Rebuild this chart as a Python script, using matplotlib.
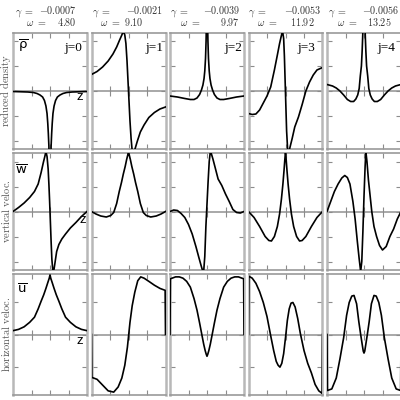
import matplotlib.pyplot as plt

# eigenvalues per mode j
gamma = [-0.0007, -0.0021, -0.0039, -0.0053, -0.0056]
omega = [4.80, 9.10, 9.97, 11.92, 13.25]
modes = ['j=0', 'j=1', 'j=2', 'j=3', 'j=4']
row_names = ['reduced density', 'vertical veloc.', 'horizontal veloc.']
row_symbols = [r'$\overline{\mathrm{ρ}}$', r'$\overline{\mathrm{w}}$', r'$\overline{\mathrm{u}}$']

# ---- reduced density ----
rho0_z = [-1, -0.8, -0.6, -0.45, -0.35, -0.27, -0.2, -0.15, -0.11, -0.08, -0.06, -0.045, -0.03, -0.02, 0,
          0.02, 0.03, 0.045, 0.06, 0.08, 0.11, 0.15, 0.2, 0.27, 0.35, 0.45, 0.6, 0.8, 1]
rho0 = [-0.01, -0.015, -0.02, -0.03, -0.05, -0.08, -0.12, -0.19, -0.3, -0.45, -0.65, -0.85, -1.1, -1.4, -2.5,
        -1.4, -1.1, -0.85, -0.65, -0.45, -0.3, -0.19, -0.12, -0.08, -0.05, -0.03, -0.02, -0.015, -0.01]

rho1_z = [-1, -0.85, -0.7, -0.55, -0.42, -0.32, -0.24, -0.18, -0.14, -0.1, -0.07, -0.04, -0.02, 0,
          0.02, 0.04, 0.07, 0.1, 0.14, 0.18, 0.24, 0.32, 0.42, 0.55, 0.7, 0.85, 1]
rho1 = [0.33, 0.39, 0.48, 0.6, 0.74, 0.88, 1.02, 1.12, 1.2, 1.12, 0.95, 0.6, 0.3, 0,
        -0.3, -0.6, -0.95, -1.2, -1.22, -1.15, -1.0, -0.82, -0.68, -0.53, -0.43, -0.36, -0.32]

rho2_z = [-1, -0.8, -0.6, -0.45, -0.35, -0.27, -0.2, -0.15, -0.11, -0.08, -0.06, -0.04, -0.025, -0.012, 0,
          0.012, 0.025, 0.04, 0.06, 0.08, 0.11, 0.15, 0.2, 0.27, 0.35, 0.45, 0.6, 0.8, 1]
rho2 = [-0.1, -0.12, -0.15, -0.17, -0.17, -0.14, -0.07, 0.02, 0.12, 0.25, 0.4, 0.65, 1.0, 1.5, 2.5,
        1.5, 1.0, 0.65, 0.4, 0.25, 0.12, 0.02, -0.07, -0.14, -0.17, -0.17, -0.15, -0.12, -0.1]

rho3_z = [-1, -0.9, -0.8, -0.7, -0.6, -0.5, -0.4, -0.3, -0.22, -0.16, -0.12, -0.08, -0.05, -0.03, -0.01,
          0.01, 0.03, 0.06, 0.09, 0.13, 0.18, 0.25, 0.35, 0.45, 0.55, 0.65, 0.75, 0.85, 1]
rho3 = [-0.45, -0.47, -0.46, -0.38, -0.24, -0.1, 0.08, 0.42, 0.72, 0.95, 1.08, 1.2, 1.05, 0.7, 0.2,
        -0.3, -0.8, -1.2, -1.22, -1.1, -0.95, -0.72, -0.52, -0.27, 0.0, 0.18, 0.32, 0.42, 0.47]

rho4_z = [-1, -0.85, -0.75, -0.65, -0.55, -0.45, -0.36, -0.28, -0.22, -0.17, -0.13, -0.1, -0.07, -0.05, -0.03, -0.015, 0,
          0.015, 0.03, 0.05, 0.07, 0.1, 0.13, 0.17, 0.22, 0.28, 0.36, 0.45, 0.55, 0.65, 0.75, 0.85, 1]
rho4 = [0.13, 0.1, 0.06, 0.0, -0.08, -0.17, -0.21, -0.21, -0.16, -0.08, 0.05, 0.3, 0.5, 0.8, 1.2, 1.8, 2.5,
        1.8, 1.2, 0.8, 0.5, 0.3, 0.05, -0.08, -0.16, -0.21, -0.21, -0.17, -0.08, 0.0, 0.06, 0.1, 0.13]

# ---- vertical velocity ----
w0_z = [-1, -0.85, -0.7, -0.55, -0.42, -0.32, -0.24, -0.18, -0.14, -0.11, -0.08, -0.05, -0.03, -0.01, 0,
        0.01, 0.03, 0.05, 0.08, 0.11, 0.14, 0.18, 0.24, 0.32, 0.42, 0.55, 0.7, 0.85, 1]
w0 = [0, 0.08, 0.17, 0.28, 0.4, 0.55, 0.78, 0.98, 1.1, 1.2, 1.1, 0.85, 0.55, 0.2, 0,
      -0.2, -0.6, -0.95, -1.22, -1.15, -1.0, -0.8, -0.66, -0.55, -0.45, -0.33, -0.22, -0.1, 0]

w1_z = [-1, -0.88, -0.75, -0.6, -0.48, -0.4, -0.32, -0.25, -0.19, -0.14, -0.09, -0.05, -0.02, 0,
        0.02, 0.05, 0.09, 0.14, 0.19, 0.25, 0.32, 0.4, 0.48, 0.6, 0.75, 0.88, 1]
w1 = [0, -0.05, -0.09, -0.11, -0.08, -0.02, 0.16, 0.4, 0.58, 0.75, 0.9, 1.04, 1.13, 1.2,
      1.13, 1.04, 0.9, 0.75, 0.58, 0.4, 0.16, -0.02, -0.08, -0.11, -0.09, -0.05, 0]

w2_z = [-1, -0.9, -0.8, -0.7, -0.6, -0.5, -0.4, -0.3, -0.22, -0.16, -0.12, -0.09, -0.06, -0.03, 0,
        0.03, 0.06, 0.09, 0.12, 0.16, 0.22, 0.3, 0.4, 0.5, 0.6, 0.7, 0.8, 0.9, 1]
w2 = [0, 0.03, 0.02, -0.04, -0.12, -0.26, -0.45, -0.7, -0.92, -1.08, -1.18, -1.2, -0.9, -0.3, 0.15,
      0.6, 1.0, 1.2, 1.15, 1.05, 0.88, 0.65, 0.52, 0.35, 0.2, 0.04, -0.02, -0.03, 0]

w3_z = [-1, -0.85, -0.7, -0.55, -0.45, -0.38, -0.3, -0.22, -0.16, -0.11, -0.07, -0.04, -0.02, 0,
        0.02, 0.04, 0.07, 0.11, 0.16, 0.22, 0.3, 0.38, 0.45, 0.55, 0.7, 0.85, 1]
w3 = [0, -0.12, -0.3, -0.5, -0.58, -0.59, -0.5, -0.3, -0.05, 0.25, 0.55, 0.82, 1.02, 1.2,
      1.02, 0.82, 0.55, 0.25, -0.05, -0.3, -0.5, -0.59, -0.58, -0.5, -0.3, -0.12, 0]

w4_z = [-1, -0.9, -0.8, -0.7, -0.6, -0.52, -0.45, -0.38, -0.3, -0.24, -0.18, -0.13, -0.09, -0.06, -0.03, 0,
        0.03, 0.05, 0.08, 0.12, 0.16, 0.21, 0.27, 0.34, 0.42, 0.5, 0.6, 0.7, 0.8, 0.9, 1]
w4 = [0, 0.2, 0.4, 0.55, 0.67, 0.72, 0.68, 0.55, 0.2, -0.15, -0.6, -0.95, -1.2, -1.0, -0.4, 0.3,
      0.9, 1.2, 1.0, 0.63, 0.35, 0.0, -0.3, -0.5, -0.68, -0.77, -0.7, -0.5, -0.35, -0.15, 0]

# ---- horizontal velocity ----
u0_z = [-1, -0.85, -0.7, -0.55, -0.42, -0.32, -0.24, -0.17, -0.11, -0.06, -0.02, 0,
        0.02, 0.06, 0.11, 0.17, 0.24, 0.32, 0.42, 0.55, 0.7, 0.85, 1]
u0 = [0.06, 0.08, 0.12, 0.19, 0.27, 0.4, 0.52, 0.62, 0.72, 0.81, 0.88, 0.93,
      0.88, 0.81, 0.72, 0.62, 0.52, 0.4, 0.27, 0.19, 0.12, 0.08, 0.06]

u1_z = [-1, -0.99, -0.85, -0.7, -0.55, -0.4, -0.28, -0.18, -0.1, -0.03, 0.04, 0.1, 0.17, 0.25,
        0.33, 0.42, 0.55, 0.7, 0.85, 0.99, 1]
u1 = [0, -0.67, -0.7, -0.79, -0.88, -0.9, -0.82, -0.68, -0.48, -0.2, 0.19, 0.45, 0.66, 0.84,
      0.9, 0.88, 0.83, 0.77, 0.72, 0.69, 0]

u2_z = [-1, -0.99, -0.85, -0.75, -0.65, -0.55, -0.45, -0.35, -0.27, -0.2, -0.14, -0.09, -0.05, -0.02, 0,
        0.02, 0.05, 0.09, 0.14, 0.2, 0.27, 0.35, 0.45, 0.55, 0.65, 0.75, 0.85, 0.99, 1]
u2 = [0, 0.87, 0.9, 0.9, 0.88, 0.83, 0.74, 0.56, 0.38, 0.18, 0.0, -0.15, -0.25, -0.31, -0.34,
      -0.31, -0.25, -0.15, 0.0, 0.18, 0.38, 0.56, 0.74, 0.83, 0.88, 0.9, 0.9, 0.87, 0]

u3_z = [-1, -0.99, -0.9, -0.8, -0.7, -0.6, -0.5, -0.4, -0.32, -0.25, -0.2, -0.15, -0.1, -0.05, 0,
        0.05, 0.1, 0.15, 0.2, 0.26, 0.33, 0.4, 0.5, 0.6, 0.7, 0.8, 0.9, 0.99, 1]
u3 = [0, 0.91, 0.88, 0.8, 0.67, 0.5, 0.28, -0.02, -0.25, -0.42, -0.48, -0.51, -0.45, -0.3, -0.05,
      0.22, 0.4, 0.49, 0.5, 0.43, 0.25, 0.02, -0.25, -0.45, -0.6, -0.78, -0.88, -0.92, 0]

u4_z = [-1, -0.99, -0.87, -0.75, -0.65, -0.55, -0.47, -0.4, -0.33, -0.27, -0.2, -0.14, -0.09, -0.05, -0.02, 0,
        0.02, 0.05, 0.09, 0.14, 0.2, 0.27, 0.33, 0.4, 0.47, 0.55, 0.65, 0.75, 0.87, 0.99, 1]
u4 = [0, -0.875, -0.85, -0.68, -0.38, -0.05, 0.3, 0.5, 0.6, 0.61, 0.48, 0.2, 0.0, -0.15, -0.26, -0.29,
      -0.26, -0.15, 0.0, 0.2, 0.48, 0.61, 0.6, 0.5, 0.3, -0.05, -0.38, -0.68, -0.85, -0.875, 0]

rows = [
    [(rho0_z, rho0), (rho1_z, rho1), (rho2_z, rho2), (rho3_z, rho3), (rho4_z, rho4)],
    [(w0_z, w0), (w1_z, w1), (w2_z, w2), (w3_z, w3), (w4_z, w4)],
    [(u0_z, u0), (u1_z, u1), (u2_z, u2), (u3_z, u3), (u4_z, u4)],
]

W = H = 400.0


def fx(x):
    return x / W


def fy(y):
    return 1 - y / H


fig = plt.figure(figsize=(4, 4), dpi=100)

# layout in pixels
lefts = [13, 91.5, 170, 248.5, 327]
tops = [33, 153, 274]
heights = [116, 117, 121]
ylims = [1.16, 1.17, 0.945]
yticks = [[-1, -0.5, 0, 0.5, 1], [-1, -0.5, 0, 0.5, 1], [-0.5, 0, 0.5]]
xt = [-0.5, 0, 0.5]
gray = '#8c8c8c'

for r in range(3):
    for c in range(5):
        ax = fig.add_axes([fx(lefts[c]), fy(tops[r] + heights[r]), 74 / W, heights[r] / H])
        ax.set_xlim(-1, 1)
        ax.set_ylim(-ylims[r], ylims[r])
        ax.axhline(0, color='#a8a8a8', lw=1.4, zorder=1)
        ax.plot(xt, [0] * len(xt), ls='none', marker='|', ms=7, mew=0.8, color=gray, zorder=1)
        z, v = rows[r][c]
        ax.plot(z, v, color='black', lw=1.2, zorder=3)
        ax.set_xticks(xt)
        ax.set_yticks(yticks[r])
        ax.tick_params(direction='in', length=3.5, width=0.8, color=gray,
                       top=True, right=True, labelbottom=False, labelleft=False)
        for side in ['left', 'right']:
            ax.spines[side].set_color('#b8b8b8')
            ax.spines[side].set_linewidth(1.8)
        for side in ['top', 'bottom']:
            ax.spines[side].set_color('#999999')
            ax.spines[side].set_linewidth(1.2)

# header: gamma / omega
g_lab = [15, 92, 170, 248, 328]
g_num = [77, 163, 240, 322, 399]
w_lab = [26, 100, 180, 257, 337]
w_num = [77, 144, 240, 315, 392]
for c in range(5):
    kw = dict(math_fontfamily='cm', fontsize=7.3, color='#333333', va='baseline')
    fig.text(fx(g_lab[c]), fy(14.5), r'$\gamma\ =$', ha='left', **kw)
    fig.text(fx(g_num[c]), fy(14.5), f'${gamma[c]:.4f}$', ha='right', **kw)
    fig.text(fx(w_lab[c]), fy(26), r'$\omega\ =$', ha='left', **kw)
    fig.text(fx(w_num[c]), fy(26), f'${omega[c]:.2f}$', ha='right', **kw)

# mode labels in top row
j_right = [82, 163, 242, 315, 395]
for c in range(5):
    fig.text(fx(j_right[c]), fy(48), modes[c], ha='right', va='center',
             family='Liberation Serif', fontsize=9.5, color='black')

# row labels
row_centers = [91, 211.5, 334]
for r in range(3):
    name = r'$\mathrm{' + row_names[r].replace(' ', r'\ ') + '}$'
    fig.text(fx(6.5), fy(row_centers[r]), name, rotation=90, ha='center', va='center',
             math_fontfamily='cm', fontsize=7.5, color='#555555')

# variable symbols and z labels in first column
sym_pos = [(18, 46), (15, 171), (17, 290)]
z_pos = [(79.5, 97), (83, 220), (79.5, 341.5)]
for r in range(3):
    fig.text(fx(sym_pos[r][0]), fy(sym_pos[r][1]), row_symbols[r], ha='left', va='center',
             math_fontfamily='dejavusans', fontsize=9.5, color='black')
    fig.text(fx(z_pos[r][0]), fy(z_pos[r][1]), 'z', ha='center', va='center',
             family='Liberation Sans', fontsize=9.5, color='black')

fig.savefig('out.png', dpi=100)
